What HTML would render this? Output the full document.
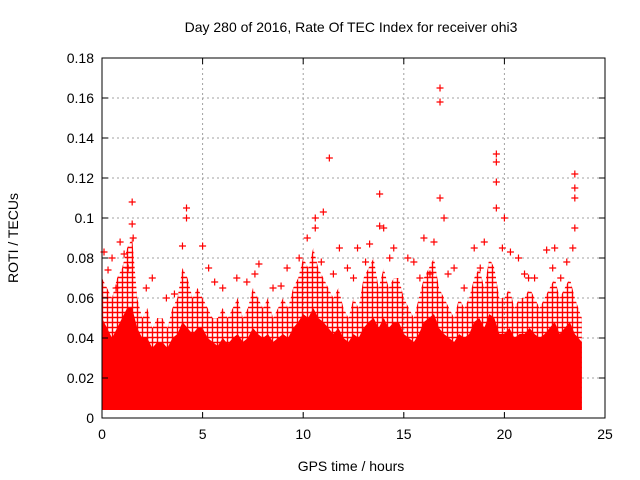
<!DOCTYPE html>
<html><head><meta charset="utf-8"><style>
body{margin:0;background:#fff;}
svg{display:block;font-family:"Liberation Sans",sans-serif;}
</style></head><body>
<svg id="chart" width="640" height="480">
<defs>
<pattern id="plusPat" width="5" height="5" patternUnits="userSpaceOnUse">
<path d="M0 2.5H5M2.5 0V5" stroke="#ff0000" stroke-width="1.4"/>
</pattern>
</defs>
<text x="351" y="32" font-size="14" text-anchor="middle">Day 280 of 2016, Rate Of TEC Index for receiver ohi3</text>
<text x="351" y="471" font-size="14" text-anchor="middle">GPS time / hours</text>
<text x="18" y="238" font-size="14" text-anchor="middle" transform="rotate(-90 18 238)">ROTI / TECUs</text>
<g id="grid"></g><g id="marks"></g><g id="axes"></g>
</svg>
<script>
const xTicks=[0,5,10,15,20,25];
const yTicks=[0,0.02,0.04,0.06,0.08,0.1,0.12,0.14,0.16,0.18];
const yTickLabels=["0","0.02","0.04","0.06","0.08","0.1","0.12","0.14","0.16","0.18"];
const binHours=[0,0.25,0.5,0.75,1,1.25,1.5,1.75,2,2.25,2.5,2.75,3,3.25,3.5,3.75,4,4.25,4.5,4.75,5,5.25,5.5,5.75,6,6.25,6.5,6.75,7,7.25,7.5,7.75,8,8.25,8.5,8.75,9,9.25,9.5,9.75,10,10.25,10.5,10.75,11,11.25,11.5,11.75,12,12.25,12.5,12.75,13,13.25,13.5,13.75,14,14.25,14.5,14.75,15,15.25,15.5,15.75,16,16.25,16.5,16.75,17,17.25,17.5,17.75,18,18.25,18.5,18.75,19,19.25,19.5,19.75,20,20.25,20.5,20.75,21,21.25,21.5,21.75,22,22.25,22.5,22.75,23,23.25,23.5,23.85];
const midTop=[0.07,0.065,0.06,0.07,0.075,0.085,0.09,0.06,0.05,0.055,0.045,0.05,0.05,0.045,0.055,0.06,0.075,0.07,0.06,0.065,0.06,0.055,0.05,0.05,0.055,0.05,0.055,0.06,0.05,0.055,0.065,0.06,0.055,0.06,0.05,0.055,0.06,0.055,0.065,0.07,0.08,0.075,0.085,0.075,0.07,0.065,0.06,0.065,0.055,0.05,0.06,0.055,0.07,0.075,0.08,0.065,0.075,0.065,0.07,0.07,0.06,0.055,0.05,0.06,0.07,0.075,0.08,0.065,0.06,0.055,0.05,0.06,0.055,0.06,0.07,0.075,0.065,0.08,0.075,0.06,0.06,0.065,0.055,0.06,0.06,0.065,0.06,0.055,0.06,0.065,0.07,0.06,0.065,0.07,0.06,0.05];
const denseTop=[0.05,0.045,0.04,0.045,0.05,0.055,0.055,0.045,0.04,0.04,0.035,0.038,0.038,0.035,0.04,0.042,0.048,0.045,0.042,0.045,0.045,0.04,0.038,0.036,0.04,0.037,0.04,0.042,0.038,0.04,0.045,0.042,0.04,0.042,0.038,0.04,0.042,0.04,0.045,0.048,0.052,0.05,0.055,0.05,0.048,0.045,0.042,0.045,0.04,0.038,0.042,0.04,0.045,0.048,0.05,0.045,0.05,0.045,0.048,0.048,0.042,0.04,0.038,0.042,0.048,0.05,0.052,0.045,0.042,0.04,0.038,0.042,0.04,0.042,0.048,0.05,0.045,0.052,0.05,0.042,0.042,0.045,0.04,0.042,0.042,0.045,0.042,0.04,0.042,0.045,0.048,0.042,0.045,0.048,0.042,0.038];
const bandBottom=0.004;
const outX=[0.1,0.5,0.9,1.5,1.5,1.55,1.3,0.3,4,4.2,4.2,5,5.3,6.7,7.8,9.2,10.2,10.6,10.6,11,11.3,11.8,12.7,13.3,13.8,13.8,14,14.5,15.2,16,16.5,16.8,16.8,16.8,17,18.5,19,19.6,19.6,19.6,19.6,20,20.7,21.5,22.1,22.5,23.5,23.5,23.5,23.5,23.4,2.5,3.2,6,8.5,11.5,12.2,15.5,17.5,18,21,22.8,7.2,9.8,13.1,16.3,20.3,2.2,0.7,1.1,3.6,5.6,7.6,8.9,10.9,12.5,14.3,15.8,17.2,18.8,19.9,21.2,22.4,23.1];
const outY=[0.083,0.08,0.088,0.108,0.097,0.09,0.075,0.074,0.086,0.105,0.1,0.086,0.075,0.07,0.077,0.075,0.09,0.1,0.095,0.103,0.13,0.085,0.085,0.087,0.112,0.096,0.095,0.085,0.08,0.09,0.088,0.165,0.158,0.11,0.1,0.085,0.088,0.132,0.128,0.118,0.105,0.1,0.08,0.07,0.084,0.085,0.122,0.115,0.11,0.095,0.085,0.07,0.06,0.065,0.065,0.072,0.075,0.078,0.075,0.065,0.072,0.07,0.068,0.08,0.078,0.072,0.083,0.065,0.065,0.082,0.062,0.068,0.072,0.066,0.078,0.07,0.08,0.07,0.072,0.075,0.085,0.07,0.075,0.078];
const L=102,R=605,T=58,B=418;
const xs=v=>L+(v/25)*(R-L);
const ys=v=>B-(v/0.18)*(B-T);
const NS="http://www.w3.org/2000/svg";
function mk(tag,attrs,parent){const e=document.createElementNS(NS,tag);for(const k in attrs)e.setAttribute(k,attrs[k]);parent.appendChild(e);return e;}
const grid=document.getElementById('grid'),marks=document.getElementById('marks'),axes=document.getElementById('axes');
xTicks.forEach((t,i)=>{
 if(i>0&&i<xTicks.length-1){const g=mk('line',{x1:xs(t),x2:xs(t),y1:T,y2:B,stroke:'#a0a0a0','stroke-dasharray':'2,3'},grid);
 
 }
 const tk=mk('path',{d:`M${xs(t)} ${B}v-6M${xs(t)} ${T}v6`,stroke:'#000'},axes);
 
 
 const tx=mk('text',{x:xs(t),y:B+21,'font-size':14,'text-anchor':'middle'},axes);tx.textContent=t;
 
 
});
yTicks.forEach((t,i)=>{
 if(i>0&&i<yTicks.length-1){const g=mk('line',{x1:L,x2:R,y1:ys(t),y2:ys(t),stroke:'#a0a0a0','stroke-dasharray':'2,3'},grid);
 
 }
 const tk=mk('path',{d:`M${L} ${ys(t)}h6M${R} ${ys(t)}h-6`,stroke:'#000'},axes);
 
 
 const tx=mk('text',{x:L-8,y:ys(t)+5,'font-size':14,'text-anchor':'end'},axes);tx.textContent=yTickLabels[i];
 
 
});
const fr=mk('rect',{x:L,y:T,width:R-L,height:B-T,fill:'none',stroke:'#000'},axes);


function band(top){let d='M'+xs(binHours[0])+' '+ys(bandBottom);binHours.forEach((h,i)=>{d+='L'+xs(h)+' '+ys(top[i]);});d+='L'+xs(binHours[binHours.length-1])+' '+ys(bandBottom)+'Z';return d;}
const mid=mk('path',{d:band(midTop),fill:'url(#plusPat)'},marks);


const den=mk('path',{d:band(denseTop),fill:'#ff0000'},marks);


outX.forEach((x,i)=>{
 const p=mk('path',{d:`M${xs(x)-3.5} ${ys(outY[i])}h7M${xs(x)} ${ys(outY[i])-3.5}v7`,stroke:'#ff0000','stroke-width':1.2},marks);
 
 
});
</script>
</body></html>
